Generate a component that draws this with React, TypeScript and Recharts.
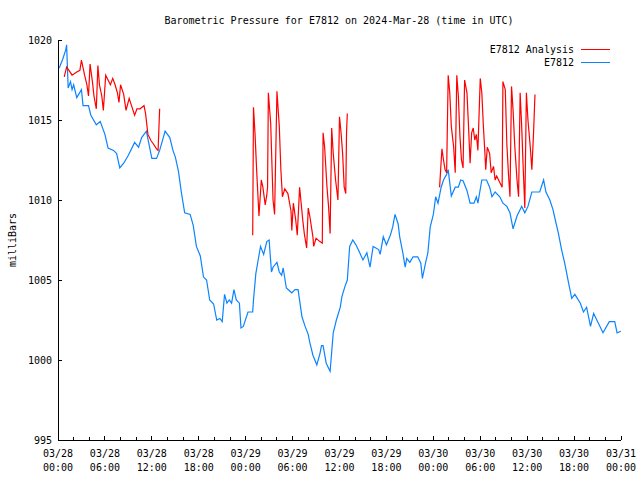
import { LineChart, Line, XAxis, YAxis } from 'recharts';

// hours since 03/28 00:00 UTC
const blueHours = [
  0, 0.2, 0.6, 1.0, 1.1, 1.3, 1.6, 1.8, 2.0, 2.4, 3.0, 3.2, 3.9, 4.2, 4.9, 5.4, 6.0, 6.4, 7.1, 7.5,
  7.9, 8.4, 9.0, 9.8, 10.3, 10.7, 11.3, 12.0, 12.6, 13.0, 13.7, 14.3, 14.7, 15.0, 15.4, 15.8, 16.2, 16.9, 17.3, 17.7,
  18.2, 18.6, 19.0, 19.4, 19.9, 20.3, 20.7, 21.0, 21.3, 21.6, 21.9, 22.2, 22.5, 22.8, 23.2, 23.4, 23.7, 24.3, 24.9, 25.0,
  25.3, 25.6, 25.9, 26.3, 26.7, 27.0, 27.3, 27.5, 28.0, 28.3, 28.6, 28.8, 29.2, 29.9, 30.3, 30.7, 31.2, 31.6, 32.0, 32.2,
  32.6, 33.1, 33.5, 33.7, 33.9, 34.3, 34.8, 35.2, 35.6, 36.1, 36.3, 36.7, 37.0, 37.3, 37.7, 38.1, 38.5, 39.0, 39.5, 39.9,
  40.3, 41.0, 41.2, 41.6, 42.0, 42.5, 42.8, 43.1, 43.5, 43.7, 44.1, 44.4, 44.6, 45.0, 45.4, 46.0, 46.4, 46.6, 47.0, 47.3,
  47.6, 48.0, 48.3, 48.6, 49.0, 49.3, 49.7, 49.9, 50.3, 50.8, 51.2, 51.5, 51.8, 52.3, 52.7, 53.2, 53.5, 53.7, 54.2, 54.8,
  55.2, 55.5, 55.9, 56.5, 56.9, 57.4, 57.8, 58.2, 58.7, 59.3, 59.7, 60.1, 60.6, 61.6, 62.1, 62.4, 62.9, 63.3, 63.6, 64.0,
  64.4, 64.8, 65.3, 65.7, 66.1, 66.8, 67.2, 67.6, 68.1, 68.5, 69.0, 69.7, 70.5, 71.2, 71.5, 72.0,
];
const bluePressure = [
  1018.2, 1018.3, 1018.8, 1019.4, 1019.7, 1017.0, 1017.4, 1016.9, 1017.2, 1016.4, 1016.9, 1015.9, 1015.9, 1015.3, 1014.7, 1014.9, 1014.1, 1013.25, 1013.1, 1012.9,
  1012.0, 1012.3, 1012.8, 1013.6, 1013.3, 1013.9, 1014.3, 1012.6, 1012.6, 1013.1, 1014.3, 1013.9, 1013.1, 1012.7, 1011.8, 1010.4, 1009.2, 1009.1, 1008.4, 1007.1,
  1006.5, 1005.2, 1005.0, 1003.75, 1003.5, 1002.5, 1002.6, 1002.4, 1004.1, 1003.55, 1003.75, 1003.55, 1004.4, 1003.75, 1003.55, 1002.0, 1002.1, 1003.0, 1003.0, 1003.75,
  1005.4, 1006.25, 1007.1, 1006.6, 1007.4, 1007.5, 1005.5, 1005.8, 1006.1, 1005.5, 1005.3, 1005.75, 1004.5, 1004.2, 1004.4, 1004.4, 1002.7, 1002.1, 1001.6, 1001.1,
  1000.3, 999.7, 1000.4, 1000.9, 1000.9, 999.8, 999.3, 1001.7, 1002.5, 1003.3, 1003.95, 1004.6, 1005.0, 1007.1, 1007.5, 1007.2, 1006.8, 1006.25, 1006.7, 1005.8,
  1007.1, 1006.9, 1006.6, 1007.7, 1007.2, 1007.8, 1008.3, 1009.1, 1008.5, 1007.7, 1006.7, 1005.8, 1006.35, 1006.1, 1006.45, 1006.45, 1006.05, 1005.1, 1006.05, 1006.7,
  1008.3, 1009.1, 1010.2, 1009.8, 1010.8, 1011.25, 1011.6, 1011.9, 1010.25, 1010.8, 1010.8, 1011.25, 1011.2, 1010.6, 1009.8, 1009.8, 1010.2, 1009.8, 1011.25, 1011.25,
  1010.8, 1010.2, 1010.5, 1010.2, 1009.8, 1009.6, 1009.2, 1008.2, 1009.0, 1009.6, 1009.2, 1009.6, 1010.5, 1010.5, 1011.25, 1010.5, 1010.0, 1009.4, 1008.75, 1007.9,
  1006.9, 1006.05, 1004.8, 1003.85, 1004.1, 1003.55, 1003.0, 1003.3, 1002.1, 1002.9, 1002.4, 1001.7, 1002.4, 1002.4, 1001.7, 1001.8,
];

// analysis runs; null marks a gap between runs
const redHours = [
  0.8, 1.1, 1.4, 1.8, 2.4, 2.8, 3.0, 3.4, 3.7, 3.9, 4.1, 4.4, 4.6, 4.9, 5.1, 5.3, 5.6, 5.8, 6.1, 6.4,
  6.7, 7.0, 7.3, 7.6, 7.8, 8.0, 8.4, 8.7, 9.1, 9.4, 9.8, 10.1, 10.5, 11.0, 11.2, 11.5, 11.9, 12.2, 12.6, 12.8,
  13.0, 19.0,
  24.9, 25.0, 25.2, 25.4, 25.7, 26.0, 26.2, 26.5, 26.7, 26.8, 26.9, 27.2, 27.5, 27.7, 28.0, 28.3, 28.5, 28.7, 29.0, 29.4,
  29.8, 29.9, 30.1, 30.4, 30.6, 30.9, 31.3, 31.5, 31.8, 32.0, 32.2, 32.6, 32.7, 33.0, 33.5, 33.8, 33.9, 34.1, 34.4, 34.6,
  34.8, 35.0, 35.2, 35.5, 35.8, 36.0, 36.2, 36.4, 36.6, 36.8, 36.9, 37.0, 43.0,
  48.8, 49.1, 49.3, 49.5, 49.7, 49.9, 50.1, 50.3, 50.6, 50.8, 51.0, 51.2, 51.4, 51.6, 51.8, 52.0, 52.3, 52.5, 52.7, 52.9,
  53.1, 53.3, 53.5, 53.7, 54.0, 54.2, 54.4, 54.6, 54.7, 54.9, 55.2, 55.4, 55.7, 55.9, 56.1, 56.5, 56.8, 56.9, 57.2, 57.4,
  57.6, 57.8, 58.0, 58.2, 58.4, 58.7, 58.9, 59.1, 59.3, 59.5, 59.7, 59.9, 60.1, 60.4, 60.6, 60.8, 61.0,
];
const redPressure = [
  1017.7, 1018.3, 1018.1, 1017.8, 1018.0, 1018.1, 1018.75, 1017.8, 1017.2, 1016.5, 1018.5, 1017.4, 1016.5, 1015.7, 1018.4, 1017.2, 1016.5, 1015.6, 1017.8, 1017.5,
  1017.2, 1017.6, 1017.2, 1016.7, 1016.1, 1017.2, 1016.6, 1015.6, 1016.35, 1015.9, 1015.3, 1015.7, 1015.7, 1015.9, 1015.4, 1014.1, 1013.7, 1013.5, 1013.2, 1013.1,
  1015.7, null,
  1007.8, 1015.8, 1014.1, 1011.9, 1009.0, 1011.25, 1010.8, 1009.7, 1010.3, 1010.8, 1016.7, 1014.8, 1010.0, 1009.1, 1016.8, 1014.6, 1011.9, 1010.2, 1010.7, 1010.4,
  1009.3, 1008.1, 1009.8, 1008.75, 1007.8, 1010.8, 1008.75, 1007.9, 1007.0, 1009.5, 1009.0, 1007.7, 1007.1, 1007.6, 1007.4, 1007.3, 1014.2, 1013.3, 1010.8, 1009.6,
  1007.9, 1014.5, 1012.9, 1011.25, 1010.0, 1015.2, 1014.2, 1012.9, 1010.8, 1010.4, 1014.2, 1015.4, null,
  1010.8, 1013.2, 1012.5, 1011.9, 1011.7, 1017.8, 1016.7, 1014.6, 1013.3, 1011.7, 1017.8, 1016.5, 1014.0, 1012.5, 1012.0, 1017.5, 1016.7, 1014.6, 1012.3, 1014.2,
  1014.5, 1013.75, 1014.1, 1013.1, 1017.6, 1016.7, 1014.6, 1012.9, 1011.9, 1013.3, 1012.9, 1011.7, 1012.1, 1011.25, 1011.5, 1011.1, 1010.8, 1017.4, 1016.9, 1013.5,
  1011.7, 1010.2, 1017.1, 1015.6, 1013.5, 1011.25, 1010.2, 1016.7, 1014.6, 1011.9, 1009.5, 1016.7, 1015.0, 1013.3, 1011.9, 1014.0, 1016.6,
];

// ticks every 2h, labelled every 6h
const hourTicks = [
  0, 2, 4, 6, 8, 10, 12, 14, 16, 18, 20, 22, 24, 26, 28, 30, 32, 34, 36,
  38, 40, 42, 44, 46, 48, 50, 52, 54, 56, 58, 60, 62, 64, 66, 68, 70, 72,
];
const dayLabels = ['03/28', '03/28', '03/28', '03/28', '03/29', '03/29', '03/29', '03/29', '03/30', '03/30', '03/30', '03/30', '03/31'];
const timeLabels = ['00:00', '06:00', '12:00', '18:00', '00:00', '06:00', '12:00', '18:00', '00:00', '06:00', '12:00', '18:00', '00:00'];
const pressureTicks = [995, 1000, 1005, 1010, 1015, 1020];

const blueData = blueHours.map((h, i) => ({ h, p: bluePressure[i] }));
const redData = redHours.map((h, i) => ({ h, p: redPressure[i] }));

const FONT = '"DejaVu Sans Mono", monospace';
const RED = '#ff0000';
const BLUE = '#0a84ff';

const BottomTick = (props: any) => {
  const { x, y, payload } = props;
  const major = payload.value % 6 === 0;
  const i = payload.value / 6;
  return (
    <g>
      <line x1={x} x2={x} y1={y} y2={y - (major ? 4 : 3)} stroke="#000" shapeRendering="crispEdges" />
      {major && (
        <text x={x} textAnchor="middle" fontFamily={FONT} fontSize={10} fill="#000">
          <tspan x={x} y={y + 17}>{dayLabels[i]}</tspan>
          <tspan x={x} y={y + 31}>{timeLabels[i]}</tspan>
        </text>
      )}
    </g>
  );
};

const TopTick = (props: any) => {
  const { x, y, payload } = props;
  const major = payload.value % 6 === 0;
  return <line x1={x} x2={x} y1={y} y2={y + (major ? 4 : 3)} stroke="#000" shapeRendering="crispEdges" />;
};

const LeftTick = (props: any) => {
  const { x, y, payload } = props;
  return (
    <g>
      <line x1={x} x2={x + 4} y1={y} y2={y} stroke="#000" shapeRendering="crispEdges" />
      <text x={x - 6} y={y + 4} textAnchor="end" fontFamily={FONT} fontSize={10} fill="#000">
        {payload.value}
      </text>
    </g>
  );
};

const RightTick = (props: any) => {
  const { x, y } = props;
  return <line x1={x} x2={x - 4} y1={y} y2={y} stroke="#000" shapeRendering="crispEdges" />;
};

const frame = { stroke: '#000', strokeWidth: 1, shapeRendering: 'crispEdges' };

export default function App() {
  return (
    <div style={{ position: 'absolute', left: 0, top: 0, width: 640, height: 480, background: '#fff' }}>
      <LineChart width={640} height={480} margin={{ top: 40, right: 19, bottom: 0, left: 0 }}>
        <XAxis
          xAxisId="bottom"
          dataKey="h"
          type="number"
          domain={[0, 72]}
          allowDataOverflow
          ticks={hourTicks}
          interval={0}
          height={40}
          tickSize={0}
          tickMargin={0}
          tickLine={false}
          axisLine={frame}
          tick={<BottomTick />}
        />
        <XAxis
          xAxisId="top"
          orientation="top"
          dataKey="h"
          type="number"
          domain={[0, 72]}
          allowDataOverflow
          ticks={hourTicks}
          interval={0}
          height={0}
          tickSize={0}
          tickMargin={0}
          tickLine={false}
          axisLine={frame}
          tick={<TopTick />}
        />
        <YAxis
          yAxisId="left"
          type="number"
          domain={[995, 1020]}
          allowDataOverflow
          ticks={pressureTicks}
          interval={0}
          width={58}
          tickSize={0}
          tickMargin={0}
          tickLine={false}
          axisLine={frame}
          tick={<LeftTick />}
        />
        <YAxis
          yAxisId="right"
          orientation="right"
          type="number"
          domain={[995, 1020]}
          allowDataOverflow
          ticks={pressureTicks}
          interval={0}
          width={0}
          tickSize={0}
          tickMargin={0}
          tickLine={false}
          axisLine={frame}
          tick={<RightTick />}
        />
        <Line
          xAxisId="bottom"
          yAxisId="left"
          data={blueData}
          dataKey="p"
          type="linear"
          stroke={BLUE}
          strokeWidth={1.2}
          dot={false}
          activeDot={false}
          isAnimationActive={false}
        />
        <Line
          xAxisId="top"
          yAxisId="right"
          data={redData}
          dataKey="p"
          type="linear"
          stroke={RED}
          strokeWidth={1.2}
          dot={false}
          activeDot={false}
          connectNulls={false}
          isAnimationActive={false}
        />
      </LineChart>
      <svg width={640} height={480} style={{ position: 'absolute', left: 0, top: 0, pointerEvents: 'none' }}>
        <text x={339} y={24} textAnchor="middle" fontFamily={FONT} fontSize={10} fill="#000">
          Barometric Pressure for E7812 on 2024-Mar-28 (time in UTC)
        </text>
        <text x={16} y={240} transform="rotate(-90 16 240)" textAnchor="middle" fontFamily={FONT} fontSize={10} fill="#000">
          milliBars
        </text>
        <text x={574} y={53} textAnchor="end" fontFamily={FONT} fontSize={10} fill="#000">E7812 Analysis</text>
        <line x1={581} x2={610} y1={49.5} y2={49.5} stroke={RED} />
        <text x={574} y={66} textAnchor="end" fontFamily={FONT} fontSize={10} fill="#000">E7812</text>
        <line x1={581} x2={610} y1={62.5} y2={62.5} stroke={BLUE} />
      </svg>
    </div>
  );
}
